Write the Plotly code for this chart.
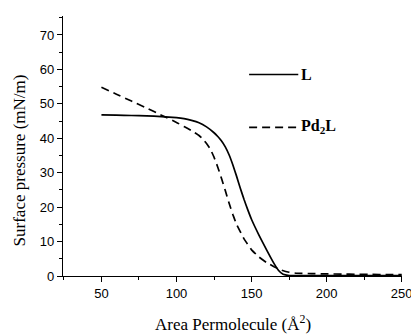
import plotly.graph_objects as go

# Data
area_L = [50, 60, 70, 80, 90, 100, 105, 110, 115, 120, 125, 127.5, 130, 132.5, 135, 137.5,
          140, 142.5, 145, 147.5, 150, 155, 160, 165, 168, 171, 175, 180, 190, 200, 210,
          220, 230, 240, 250]
pressure_L = [46.8, 46.7, 46.6, 46.5, 46.3, 46.0, 45.7, 45.2, 44.5, 43.3, 41.6, 40.5,
              39.2, 37.5, 35.2, 32.3, 29.0, 25.5, 22.2, 19.2, 16.4, 11.8, 7.6, 3.6, 1.6,
              0.5, 0.15, 0.1, 0.1, 0.1, 0.1, 0.1, 0.1, 0.1, 0.1]

area_Pd2L = [50, 60, 70, 80, 90, 100, 105, 110, 115, 117.5, 120, 122.5, 125, 127.5, 130,
             132.5, 135, 137.5, 140, 145, 150, 155, 160, 165, 170, 175, 180, 190, 200,
             210, 220, 230, 240, 250]
pressure_Pd2L = [54.8, 52.8, 50.8, 48.8, 46.7, 44.6, 43.4, 42.2, 40.8, 39.8, 38.5, 36.9,
                 34.5, 31.6, 28.3, 24.8, 21.2, 17.9, 15.0, 10.8, 7.6, 5.5, 3.9, 2.7, 1.7,
                 1.1, 0.8, 0.7, 0.6, 0.55, 0.5, 0.45, 0.4, 0.4]

series_names = ["L", "Pd<sub>2</sub>L"]
x_ticks = [50, 100, 150, 200, 250]
y_ticks = [0, 10, 20, 30, 40, 50, 60, 70]

serif = "Times New Roman, Liberation Serif, serif"
sans = "Arial, Liberation Sans, sans-serif"

fig = go.Figure()
fig.add_trace(go.Scatter(x=area_L, y=pressure_L, mode="lines", name=series_names[0],
                         line=dict(color="black", width=1.7, shape="spline", smoothing=0.3),
                         showlegend=False))
fig.add_trace(go.Scatter(x=area_Pd2L, y=pressure_Pd2L, mode="lines", name=series_names[1],
                         line=dict(color="black", width=1.7, dash="8px,5px",
                                   shape="spline", smoothing=0.3),
                         showlegend=False))

# Legend drawn manually
fig.add_shape(type="line", xref="paper", yref="paper", x0=0.549, x1=0.694, y0=0.775, y1=0.775,
              line=dict(color="black", width=1.7))
fig.add_shape(type="line", xref="paper", yref="paper", x0=0.549, x1=0.694, y0=0.572, y1=0.572,
              line=dict(color="black", width=1.7, dash="8px,5px"))
fig.add_annotation(xref="paper", yref="paper", x=0.697, y=0.775, xanchor="left", yanchor="middle",
                   text="<b>" + series_names[0] + "</b>", showarrow=False,
                   font=dict(family=serif, size=16, color="black"))
fig.add_annotation(xref="paper", yref="paper", x=0.697, y=0.575, xanchor="left", yanchor="middle",
                   text="<b>" + series_names[1] + "</b>", showarrow=False,
                   font=dict(family=serif, size=16, color="black"))

# Axis titles
fig.add_annotation(xref="paper", yref="paper", x=-0.128, y=0.443, xanchor="center", yanchor="middle",
                   text="Surface pressure (mN/m)", textangle=-90, showarrow=False,
                   font=dict(family=serif, size=17, color="black"))
fig.add_annotation(xref="paper", yref="paper", x=0.5, y=-0.182, xanchor="center", yanchor="middle",
                   text="Area Permolecule (Å<sup>2</sup>)", showarrow=False,
                   font=dict(family=serif, size=17, color="black"))

fig.update_layout(
    width=411, height=334,
    margin=dict(l=63, r=9, t=16, b=58, autoexpand=False),
    paper_bgcolor="white", plot_bgcolor="white",
    showlegend=False,
    xaxis=dict(range=[24.4, 250.2], tickvals=x_ticks, ticks="outside", ticklen=5, tickwidth=1,
               tickcolor="black", showline=True, linecolor="black", linewidth=1.2,
               showgrid=False, zeroline=False, ticklabeloverflow="allow", automargin=False,
               tickfont=dict(family=sans, size=13, color="black"),
               minor=dict(tickvals=[25, 75, 125, 175, 225], ticks="outside", ticklen=3,
                          tickcolor="black", showgrid=False)),
    yaxis=dict(range=[0, 75.5], tickvals=y_ticks, ticks="outside", ticklen=5, tickwidth=1,
               tickcolor="black", showline=True, linecolor="black", linewidth=1.2,
               showgrid=False, zeroline=False, automargin=False,
               tickfont=dict(family=sans, size=13, color="black"),
               minor=dict(tickvals=[5, 15, 25, 35, 45, 55, 65, 75], ticks="outside", ticklen=3,
                          tickcolor="black", showgrid=False)),
)

# remove the default page margin so the figure fills the window exactly
fig.write_html("out.html", config={"displayModeBar": False},
               post_script="document.body.style.margin='0';document.body.style.overflow='hidden';")
